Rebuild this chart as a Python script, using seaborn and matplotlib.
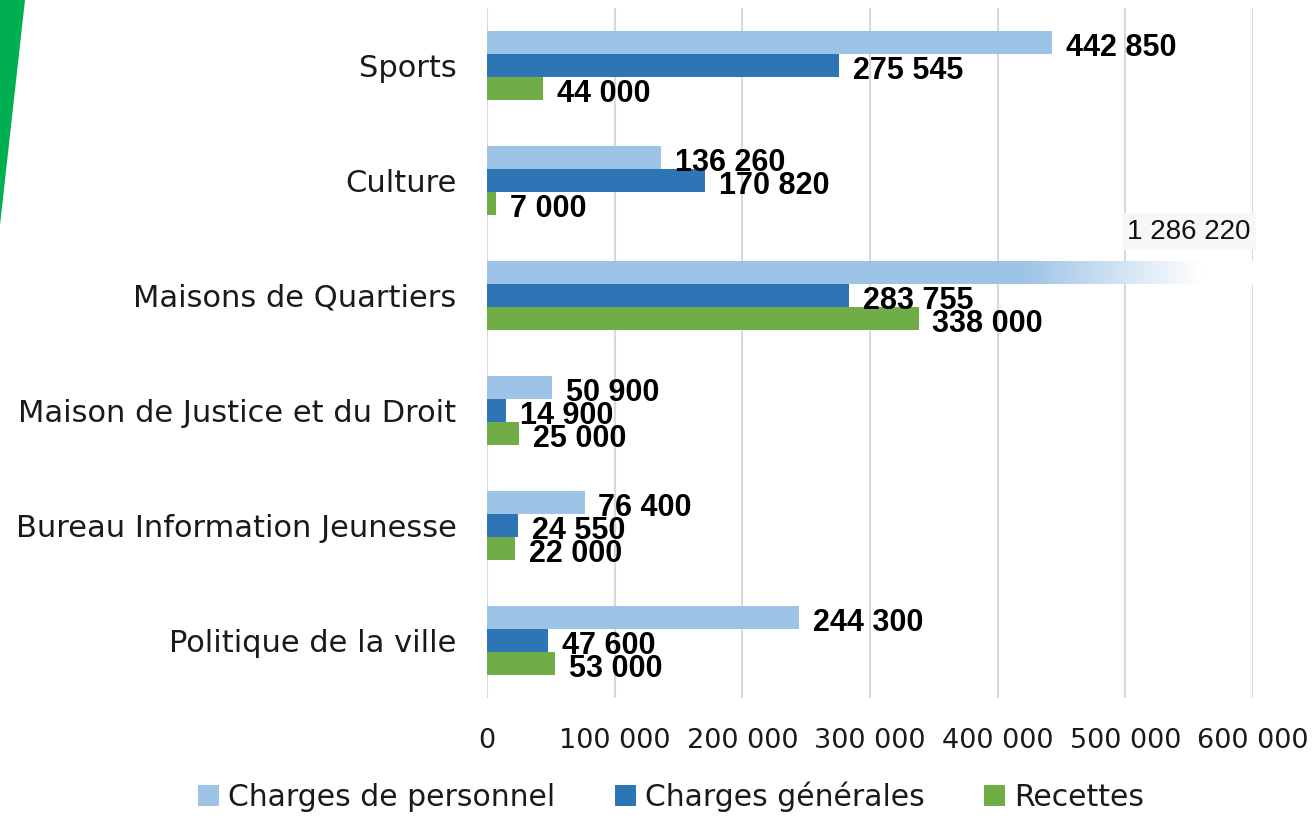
import numpy as np
import pandas as pd
import matplotlib
matplotlib.use('Agg')
import matplotlib.pyplot as plt
from matplotlib.patches import Polygon
import seaborn as sns

# données
categories = ['Sports', 'Culture', 'Maisons de Quartiers', 'Maison de Justice et du Droit',
              'Bureau Information Jeunesse', 'Politique de la ville']
personnel = [442850, 136260, 1286220, 50900, 76400, 244300]
generales = [275545, 170820, 283755, 14900, 24550, 47600]
recettes = [44000, 7000, 338000, 25000, 22000, 53000]
series = ['Charges de personnel', 'Charges générales', 'Recettes']
colors = ['#9DC3E6', '#2E75B6', '#70AD47']
xticks = [0, 100000, 200000, 300000, 400000, 500000, 600000]
xmax = 600000

def fmt(v):
    return '{:,}'.format(int(v)).replace(',', ' ')

df = pd.DataFrame({'categorie': categories * 3,
                   'serie': np.repeat(series, len(categories)),
                   'valeur': personnel + generales + recettes})

sns.set_style('white')
plt.rcParams['font.family'] = ['DejaVu Sans']
txt = '#1A1A1A'

fig = plt.figure(figsize=(13.14, 8.18), dpi=100)
ax = fig.add_axes([0.3706, 0.1473, 0.583, 0.8435])

sns.barplot(data=df, y='categorie', x='valeur', hue='serie', orient='h',
            palette=colors, width=0.6, saturation=1, linewidth=0, ax=ax, legend=True)

ax.set_xlim(0, xmax)
ax.set_xticks(xticks)
ax.set_xticklabels([fmt(t) for t in xticks], fontsize=19.5, color=txt)
ax.tick_params(axis='x', length=0, pad=22)
ax.tick_params(axis='y', length=0, pad=22, labelsize=22, labelcolor=txt)
ax.set_xlabel('')
ax.set_ylabel('')
for s in ax.spines.values():
    s.set_visible(False)
ax.grid(axis='x', color='#D9D9D9', linewidth=1.5)
ax.set_axisbelow(True)

# étiquettes de données
for cont in ax.containers:
    for p in cont:
        v = p.get_width()
        y = p.get_y() + p.get_height() / 2
        if v > xmax:
            # barre tronquée : dégradé vers le blanc
            y0, y1 = p.get_y(), p.get_y() + p.get_height()
            col = np.array(matplotlib.colors.to_rgb(p.get_facecolor()))
            n = 256
            t = np.linspace(0, 1, n)
            fade = np.clip(t / 0.78, 0, 1)
            img = np.ones((1, n, 3))
            for k in range(3):
                img[0, :, k] = col[k] * (1 - fade) + fade
            ax.imshow(img, extent=[0.7 * xmax, xmax, y1, y0], aspect='auto', zorder=3)
            ax.text(xmax * 0.997, y0 - 0.25, fmt(v), ha='right', va='center',
                    fontsize=20, color='#111111', family='Liberation Sans',
                    bbox=dict(facecolor='#F7F7F7', edgecolor='none', pad=4), zorder=4)
        else:
            ax.annotate(fmt(v), (v, y), xytext=(10, -4), textcoords='offset points',
                        ha='left', va='center', fontsize=22, fontweight='bold',
                        family='Liberation Sans', color='black', zorder=4)

ax.set_ylim(len(categories) - 0.5, -0.5)

leg = ax.legend(loc='upper center', bbox_to_anchor=((671 - 487) / 766, -0.105),
                ncol=3, frameon=False, fontsize=21.5, handlelength=0.7, handleheight=0.7,
                handletextpad=0.3, columnspacing=2.0, borderaxespad=0, labelcolor=txt)

# triangle vert décoratif
fig.patches.append(Polygon([[0, 1], [25 / 1314, 1], [0, 1 - 225 / 818]], closed=True,
                           transform=fig.transFigure, facecolor='#00B050', edgecolor='none'))

fig.savefig('out.png', dpi=100)
